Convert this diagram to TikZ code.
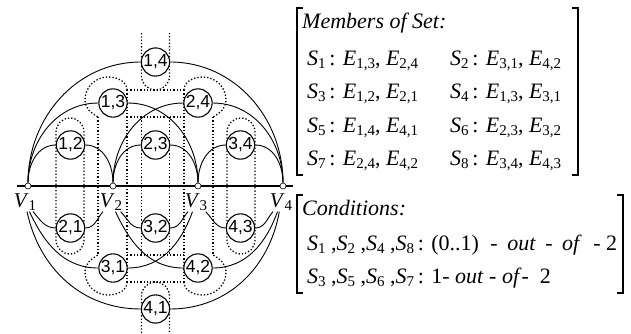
\documentclass[tikz,border=0pt]{standalone}
\usepackage{fontspec}
\setmainfont{Liberation Serif}
\newfontfamily\labelfont{Liberation Sans}
\usetikzlibrary{positioning}
\newcommand{\subtxt}[1]{\raisebox{-0.32ex}{\fontsize{15}{15}\selectfont #1}}
\newcommand{\Sn}[1]{\textit{S}\subtxt{#1}}
\newcommand{\En}[1]{\textit{E}\subtxt{#1}}
\newcommand{\Vn}[1]{\textit{V}\subtxt{#1}}
\tikzset{
    vertex/.style={draw, circle, fill=white, inner sep=0pt, minimum size=6pt, line width=0.6pt},
    vlabel/.style={inner sep=1pt, font=\fontsize{21}{22}\selectfont},
    edgenode/.style={draw, circle, fill=white, line width=1.1pt, inner sep=0pt, minimum size=27pt, font=\labelfont\fontsize{17.5}{17}\selectfont},
    arcline/.style={line width=0.9pt},
    setline/.style={line width=1.3pt, dash pattern=on 1.3pt off 2pt},
    bracket/.style={line width=1.1pt},
    settext/.style={anchor=base west, inner sep=0pt, font=\fontsize{22}{24}\selectfont},
}
\begin{document}
\begin{tikzpicture}[x=1pt, y=1pt]
    \useasboundingbox (0,0) rectangle (631,-333);

    % Set outlines (dotted)
    \draw[setline] (56,-132) arc[start angle=180, end angle=0, radius=14pt] -- (84,-240) arc[start angle=0, end angle=-180, radius=14pt] -- cycle;
    \draw[setline] (227,-132) arc[start angle=180, end angle=0, radius=14pt] -- (255,-240) arc[start angle=0, end angle=-180, radius=14pt] -- cycle;
    \draw[setline] (141.5,-117) -- (141.5,-255) (169.5,-117) -- (169.5,-255);
    \draw[setline] (141.5,-33) -- (141.5,-76) arc[start angle=180, end angle=360, radius=14pt] -- (169.5,-33);
    \draw[setline] (141.5,-333) -- (141.5,-296) arc[start angle=180, end angle=0, radius=14pt] -- (169.5,-333);
    \draw[setline] (127,-90) -- (184,-90) (127,-117) -- (184,-117);
    \draw[setline] (127,-255) -- (184,-255) (127,-282) -- (184,-282);
    \draw[setline] (98,-117) -- (98,-255) (127,-90) -- (127,-282);
    \draw[setline] (213,-117) -- (213,-255) (184,-90) -- (184,-282);
    \draw[setline] (127,-90) to[out=90, in=0] (108,-77) to[out=180, in=90] (85,-100) to[out=-90, in=150] (98,-117);
    \draw[setline] (127,-282) to[out=-90, in=0] (108,-295) to[out=180, in=-90] (85,-272) to[out=90, in=-150] (98,-255);
    \draw[setline] (184,-90) to[out=90, in=180] (203,-77) to[out=0, in=90] (226,-100) to[out=-90, in=30] (213,-117);
    \draw[setline] (184,-282) to[out=-90, in=180] (203,-295) to[out=0, in=-90] (226,-272) to[out=90, in=-30] (213,-255);

    % Vertices
    \coordinate (axl) at (17,-186);
    \coordinate (axr) at (293,-186);
    \node[vertex] (v1) at (28,-186) {};
    \node[vertex] (v2) at (113,-186) {};
    \node[vertex] (v3) at (198,-186) {};
    \node[vertex] (v4) at (283,-186) {};
    \node[vlabel] (lv1) at (25,-202) {\Vn{1}};
    \node[vlabel] (lv2) at (111,-202) {\Vn{2}};
    \node[vlabel] (lv3) at (196,-202) {\Vn{3}};
    \node[vlabel] (lv4) at (281,-202) {\Vn{4}};

    % Edges above
    \node[edgenode] (e12) at (70.5,-145) {1,2};
    \node[edgenode] (e23) at (155.5,-145) {2,3};
    \node[edgenode] (e34) at (240.5,-145) {3,4};
    \node[edgenode] (e13) at (113,-103) {1,3};
    \node[edgenode] (e24) at (198,-103) {2,4};
    \node[edgenode] (e14) at (155.5,-62) {1,4};

    % Edges below
    \node[edgenode] (e21) at (70.5,-228) {2,1};
    \node[edgenode] (e32) at (155.5,-228) {3,2};
    \node[edgenode] (e43) at (240.5,-228) {4,3};
    \node[edgenode] (e31) at (113,-268) {3,1};
    \node[edgenode] (e42) at (198,-268) {4,2};
    \node[edgenode] (e41) at (155.5,-309) {4,1};

    % Axis
    \draw[line width=1.3pt] (axl) -- (v1) -- (v2) -- (v3) -- (v4) -- (axr);

    % Arcs
    \draw[arcline] (v1) to[out=90, in=180] (e12) to[out=0, in=90] (v2);
    \draw[arcline] (v2) to[out=90, in=180] (e23) to[out=0, in=90] (v3);
    \draw[arcline] (v3) to[out=90, in=180] (e34) to[out=0, in=90] (v4);
    \draw[arcline] (v1) to[out=90, in=180] (e13) to[out=0, in=90] (v3);
    \draw[arcline] (v2) to[out=90, in=180] (e24) to[out=0, in=90] (v4);
    \draw[arcline] (v1) to[out=90, in=180] (e14) to[out=0, in=90] (v4);
    \draw[arcline] (lv1) to[out=-50, in=180] (e21) to[out=0, in=-130] (lv2);
    \draw[arcline] (lv2) to[out=-45, in=180] (e32) to[out=0, in=-130] (lv3);
    \draw[arcline] (lv3) to[out=-45, in=180] (e43) to[out=0, in=-130] (lv4);
    \draw[arcline] (lv1) to[out=-65, in=180] (e31) to[out=0, in=-110] (lv3);
    \draw[arcline] (lv2) to[out=-65, in=180] (e42) to[out=0, in=-110] (lv4);
    \draw[arcline] (lv1) to[out=-78, in=180] (e41) to[out=0, in=-100] (lv4);

    % Members of Set
    \draw[bracket] (303,-8) -- (297,-8) -- (297,-175) -- (303,-175);
    \draw[bracket] (572,-8) -- (578,-8) -- (578,-175) -- (572,-175);
    \node[settext, font=\fontsize{22}{24}\selectfont\itshape] (memtitle) at (302,-28) {Members of Set:};
    \node[settext] (m1) at (307,-65) {\Sn{1}\,: \En{1,3}, \En{2,4}};
    \node[settext] (m2) at (450,-65) {\Sn{2}\,: \En{3,1}, \En{4,2}};
    \node[settext] (m3) at (307,-98) {\Sn{3}\,: \En{1,2}, \En{2,1}};
    \node[settext] (m4) at (450,-98) {\Sn{4}\,: \En{1,3}, \En{3,1}};
    \node[settext] (m5) at (307,-132) {\Sn{5}\,: \En{1,4}, \En{4,1}};
    \node[settext] (m6) at (450,-132) {\Sn{6}\,: \En{2,3}, \En{3,2}};
    \node[settext] (m7) at (307,-165) {\Sn{7}\,: \En{2,4}, \En{4,2}};
    \node[settext] (m8) at (450,-165) {\Sn{8}\,: \En{3,4}, \En{4,3}};

    % Conditions
    \draw[bracket] (303,-195) -- (297,-195) -- (297,-293) -- (303,-293);
    \draw[bracket] (617,-195) -- (623,-195) -- (623,-293) -- (617,-293);
    \node[settext, font=\fontsize{22}{24}\selectfont\itshape] (condtitle) at (302,-215) {Conditions:};
    \node[settext] (cond1) at (307,-250) {\Sn{1}\ ,\Sn{2}\ ,\Sn{4}\ ,\Sn{8}\,: (0..1)\hspace{6pt} -\hspace{4pt} \textit{out}\hspace{4pt} -\hspace{4pt} \textit{of}\hspace{6pt} - 2};
    \node[settext] (cond2) at (307,-283) {\Sn{3}\ ,\Sn{5}\ ,\Sn{6}\ ,\Sn{7}\,: 1- \textit{out}\ - \textit{of}- \ 2};
\end{tikzpicture}
\end{document}
